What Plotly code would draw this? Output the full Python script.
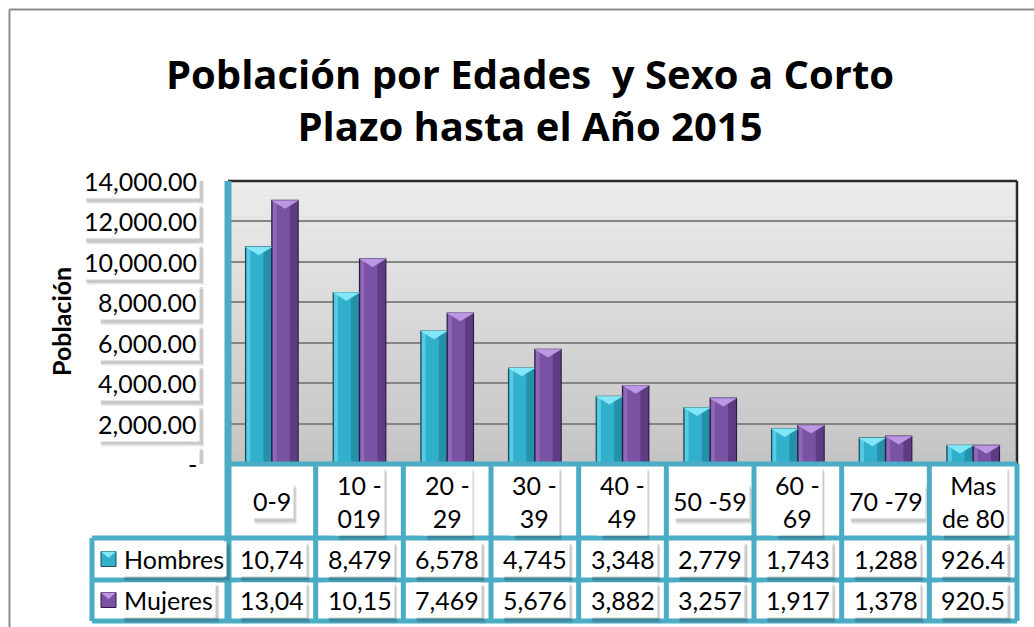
import plotly.graph_objects as go

# ---- data -------------------------------------------------------------
categories = ["0-9", "10 -<br>019", "20 -<br>29", "30 -<br>39", "40 -<br>49",
              "50 -59", "60 -<br>69", "70 -79", "Mas<br>de 80"]
series_names = ["Hombres", "Mujeres"]
hombres = [10740, 8479, 6578, 4745, 3348, 2779, 1743, 1288, 926.4]
mujeres = [13040, 10150, 7469, 5676, 3882, 3257, 1917, 1378, 920.5]
y_ticks = [0, 2000, 4000, 6000, 8000, 10000, 12000, 14000]

title_text = "Población por Edades\u00a0\u00a0y Sexo a Corto<br>Plazo hasta el Año 2015"
y_title = "Población"

# ---- geometry / style ---------------------------------------------------
W, H = 1034, 627
L, R, T, B = 228, 1017, 181, 464          # plot area in pixels
Y_MAX = 14000
FONT = "Lato"
FONT_SIZE = 25
TITLE_FONT = "Open Sans"
TEAL = "#4bacc6"

styles = [
    dict(body="#31b0cc", dark="#2590aa", light="#56cbe3", cap="#82e8f8", edge="#1c4c58"),
    dict(body="#7a52a3", dark="#5e3c84", light="#9068b8", cap="#bb97e4", edge="#2d1a44"),
]
BAR_W = 0.3

# approximate Lato advance widths (em) used to size label shadows
GLYPH_EM = {",": 0.23, ".": 0.23, "-": 0.35, " ": 0.19, "H": 0.75, "M": 0.92,
            "o": 0.56, "m": 0.84, "b": 0.57, "r": 0.38, "e": 0.53, "s": 0.43,
            "u": 0.57, "j": 0.25, "a": 0.51, "d": 0.57}


def text_px(line):
    return sum(GLYPH_EM.get(ch, 0.58) for ch in line) * FONT_SIZE


def xp(px):
    return (px - L) / (R - L)


def yp(py):
    return (B - py) / (B - T)


def cell_text(v):
    s = f"{v:,.0f}" if v >= 1000 else f"{v:.1f}"
    return s[:5]          # clipped to the column width


def tick_text(v):
    return f"{v:,.2f}" if v else "-"


fig = go.Figure()
x = list(range(len(categories)))
cap_depth = 8 * Y_MAX / (B - T)   # bevel depth in data units

for i, (name, vals) in enumerate(zip(series_names, [hombres, mujeres])):
    st = styles[i]
    off = -BAR_W + BAR_W * i
    # body
    fig.add_trace(go.Bar(x=x, y=vals, width=BAR_W, offset=off, name=name,
                         marker=dict(color=st["body"], line=dict(width=0)),
                         showlegend=False, hoverinfo="skip"))
    # shading strips
    fig.add_trace(go.Bar(x=x, y=vals, width=BAR_W * 0.3, offset=off + BAR_W * 0.68,
                         marker=dict(color=st["dark"], line=dict(width=0)),
                         showlegend=False, hoverinfo="skip"))
    fig.add_trace(go.Bar(x=x, y=vals, width=BAR_W * 0.14, offset=off + BAR_W * 0.04,
                         marker=dict(color=st["light"], line=dict(width=0)),
                         showlegend=False, hoverinfo="skip"))
    # outline
    fig.add_trace(go.Bar(x=x, y=vals, width=BAR_W, offset=off,
                         marker=dict(color="rgba(0,0,0,0)", line=dict(color=st["edge"], width=1.2)),
                         showlegend=False, hoverinfo="skip"))
    # bevelled cap
    cx, cy = [], []
    for k, v in zip(x, vals):
        x0, x1 = k + off, k + off + BAR_W
        cx += [x0, x1, (x0 + x1) / 2, x0, None]
        cy += [v, v, v - cap_depth, v, None]
    fig.add_trace(go.Scatter(x=cx, y=cy, mode="lines", fill="toself",
                             fillcolor=st["cap"], line=dict(color=st["cap"], width=0.5),
                             showlegend=False, hoverinfo="skip"))

shapes = []
annotations = []

# gradient back wall
n_bands = 40
for b in range(n_bands):
    t = b / (n_bands - 1)
    c = int(196 + (237 - 196) * t)
    shapes.append(dict(type="rect", xref="paper", yref="paper",
                       x0=0, x1=1, y0=b / n_bands, y1=(b + 1) / n_bands,
                       fillcolor=f"rgb({c},{c},{c})", line=dict(width=0), layer="below"))

# wall frame (top and right)
shapes.append(dict(type="line", xref="paper", yref="paper", x0=0, x1=1, y0=1, y1=1,
                   line=dict(color="#2a2a2a", width=2.5)))
shapes.append(dict(type="line", xref="paper", yref="paper", x0=1, x1=1, y0=0, y1=1,
                   line=dict(color="#2a2a2a", width=2.5)))

# outer chart border
shapes.append(dict(type="line", xref="paper", yref="paper", x0=xp(9.5), x1=xp(W + 5),
                   y0=yp(9.5), y1=yp(9.5), line=dict(color="#8c8c8c", width=2)))
shapes.append(dict(type="line", xref="paper", yref="paper", x0=xp(9.5), x1=xp(9.5),
                   y0=yp(9.5), y1=yp(H + 5), line=dict(color="#8c8c8c", width=2)))

# data table grid
row_lines = [538, 580, 621]
n = len(categories)
TW = 5
shapes.append(dict(type="line", xref="paper", yref="paper", x0=xp(228), x1=xp(1017),
                   y0=yp(464), y1=yp(464), line=dict(color=TEAL, width=TW)))
shapes.append(dict(type="line", xref="paper", yref="paper", x0=0, x1=0,
                   y0=1, y1=yp(621), line=dict(color=TEAL, width=7)))
for k in range(1, n + 1):
    shapes.append(dict(type="line", xref="paper", yref="paper", x0=k / n, x1=k / n,
                       y0=yp(464), y1=yp(621), line=dict(color=TEAL, width=TW)))
for py in row_lines:
    shapes.append(dict(type="line", xref="paper", yref="paper", x0=xp(92), x1=xp(1017),
                       y0=yp(py), y1=yp(py), line=dict(color=TEAL, width=TW)))
shapes.append(dict(type="line", xref="paper", yref="paper", x0=xp(92), x1=xp(92),
                   y0=yp(538), y1=yp(621), line=dict(color=TEAL, width=TW)))

PAD = 2


def boxed(text, xref, yref, x, y, xanchor):
    """Text on a white label with a soft drop shadow underneath."""
    lines = text.split("<br>")
    w = max(text_px(s) for s in lines) + 2 * PAD
    h = len(lines) * 1.3 * FONT_SIZE + 2 * PAD
    if xanchor == "right":
        sx0, sx1 = -w, 0
    elif xanchor == "left":
        sx0, sx1 = 0, w
    else:
        sx0, sx1 = -w / 2, w / 2
    for dx, dy, alpha in [(4, -5, 0.08), (3, -3, 0.14)]:
        shapes.append(dict(type="rect", xref=xref, yref=yref,
                           xsizemode="pixel", ysizemode="pixel",
                           xanchor=x, yanchor=y,
                           x0=sx0 + dx, x1=sx1 + dx, y0=-h / 2 + dy, y1=h / 2 + dy,
                           fillcolor=f"rgba(0,0,0,{alpha})", line=dict(width=0),
                           layer="above"))
    annotations.append(dict(text=text, xref=xref, yref=yref, x=x, y=y,
                            xanchor=xanchor, yanchor="middle", showarrow=False,
                            borderpad=PAD, bgcolor="white",
                            font=dict(family=FONT, size=FONT_SIZE, color="black")))


# y tick labels
for v in y_ticks:
    boxed(tick_text(v), "paper", "y", xp(200), v, "right")

# category row
for k, c in enumerate(categories):
    boxed(c, "x", "paper", k, yp(501), "center")

# value rows + legend keys
row_centers = [559, 600]
for i, (name, vals) in enumerate(zip(series_names, [hombres, mujeres])):
    py = row_centers[i]
    st = styles[i]
    for k, v in enumerate(vals):
        boxed(cell_text(v), "x", "paper", k, yp(py), "center")
    boxed(name, "paper", "paper", xp(121), yp(py), "left")
    kx0, kx1, ky0, ky1 = xp(101), xp(116), yp(py + 7.5), yp(py - 7.5)
    shapes.append(dict(type="rect", xref="paper", yref="paper", x0=kx0, x1=kx1, y0=ky0, y1=ky1,
                       fillcolor=st["body"], line=dict(color=st["edge"], width=1)))
    shapes.append(dict(type="path", xref="paper", yref="paper",
                       path=f"M {kx0},{ky1} L {kx1},{ky1} L {(kx0 + kx1) / 2},{yp(py - 1)} Z",
                       fillcolor=st["cap"], line=dict(width=0)))

# axis title
annotations.append(dict(text=f"<b>{y_title}</b>", xref="paper", yref="paper",
                        x=xp(61), y=yp(322), textangle=-90, showarrow=False,
                        xanchor="center", yanchor="middle",
                        font=dict(family=FONT, size=25, color="black")))

fig.update_layout(
    width=W, height=H,
    margin=dict(l=L, r=W - R, t=T, b=H - B, pad=0),
    paper_bgcolor="white", plot_bgcolor="rgb(215,215,215)",
    barmode="overlay",
    title=dict(text=f"<b>{title_text}</b>", x=530 / W, xanchor="center",
               y=1 - 89 / H, yanchor="middle", yref="container",
               font=dict(family=TITLE_FONT, size=40, color="black")),
    xaxis=dict(range=[-0.5, n - 0.5], showticklabels=False, showgrid=False,
               zeroline=False, showline=False, fixedrange=True),
    yaxis=dict(range=[0, Y_MAX], tickvals=y_ticks, showticklabels=False,
               showgrid=True, gridcolor="#858585", gridwidth=2,
               zeroline=False, showline=False, fixedrange=True),
    shapes=shapes, annotations=annotations,
    showlegend=False,
)

fig.write_html("out.html")
